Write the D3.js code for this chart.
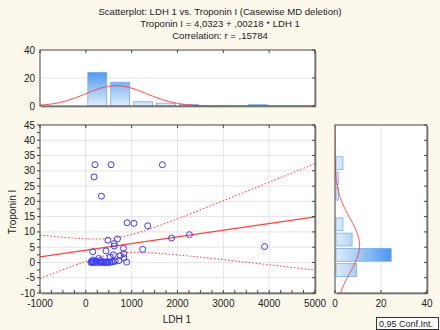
<!DOCTYPE html>
<html lang="en">
  <head>
    <meta charset="utf-8">
    <title>Scatterplot LDH 1 vs Troponin I</title>
    <script type="text/javascript" src="https://cdn.jsdelivr.net/npm/d3@7"></script>
    <style>
    body { margin: 0; background: #fcf8ec; }
    svg { display: block; font-family: "Liberation Sans", Arial, sans-serif; }
    .tick-label { font-size: 10px; fill: #222; }
    .title { font-size: 9.6px; fill: #222; text-anchor: middle; }
    </style>
  </head>
  <body>
    <div id="chart"></div>
    <script type="text/javascript">

      // data
      var ldh1 = [200, 550, 1670, 180, 340, 900, 1050, 1350, 1870, 2260, 3900, 1240,
                  690, 480, 620, 620, 820, 150, 440, 830, 600, 750, 830, 530, 280, 150, 310, 720, 890,
                  110, 125, 140, 165, 190, 215, 250, 300, 330, 360, 385, 410, 440, 465, 490,
                  520, 560, 590, 640];
      var troponinI = [32, 32, 32, 28, 21.7, 13, 12.8, 12, 8, 9.1, 5.2, 4.3,
                  7.7, 7.3, 6.2, 5.4, 4.6, 3.5, 3.8, 2.9, 2.5, 2.2, 1.5, 1.8, 1.3, 0.8, 0.6, 0.6, 0.1,
                  0, 0.3, 0, 0.2, 0, 0.4, 0, 0, 0.2, 0, 0.3, 0, 0, 0.2, 0.1,
                  0, 0.3, 0.2, 0.4];

      // fit printed in the title
      var intercept = 4.0323, slope = 0.00218;
      var titleLines = ["Scatterplot: LDH 1 vs. Troponin I (Casewise MD deletion)",
                        "Troponin I = 4,0323 + ,00218 * LDH 1",
                        "Correlation: r = ,15784"];
      var xTicks = [-1000, 0, 1000, 2000, 3000, 4000, 5000];
      var yTicks = [-10, -5, 0, 5, 10, 15, 20, 25, 30, 35, 40, 45];
      var histTicks = [0, 20, 40];
      var xBinWidth = 500, yBinWidth = 5;
      var tCrit = 2.0129; // t(0.975, 46)

      var W = 440, H = 330;
      var svg = d3.select("#chart").append("svg").attr("width", W).attr("height", H);
      svg.append("rect").attr("width", W).attr("height", H).attr("fill", "#fcf8ec");

      var x = d3.scaleLinear().domain([-1000, 5000]).range([40, 315]);
      var y = d3.scaleLinear().domain([-10, 45]).range([293, 125]);
      var hy = d3.scaleLinear().domain([0, 40]).range([106, 50]);   // top histogram counts
      var hx = d3.scaleLinear().domain([0, 40]).range([335, 427]);  // right histogram counts

      var n = ldh1.length;
      var pts = ldh1.map(function(d, i) { return {x: d, y: troponinI[i]}; });

      // bins are (lo, hi]
      function binCounts(vals, start, stop, w) {
        var counts = d3.range(Math.round((stop - start) / w)).map(function() { return 0; });
        vals.forEach(function(v) {
          var k = Math.ceil((v - start) / w) - 1;
          if (k >= 0 && k < counts.length) counts[k]++;
        });
        return counts.map(function(c, i) { return {lo: start + i * w, hi: start + (i + 1) * w, n: c}; });
      }
      var xBins = binCounts(ldh1, -1000, 5000, xBinWidth).filter(function(b) { return b.n > 0; });
      var yBins = binCounts(troponinI, -10, 45, yBinWidth).filter(function(b) { return b.n > 0; });

      var mx = d3.mean(ldh1), sx = d3.deviation(ldh1);
      var my = d3.mean(troponinI), sy = d3.deviation(troponinI);
      var sxx = d3.sum(ldh1, function(d) { return (d - mx) * (d - mx); });
      var sres = Math.sqrt(d3.sum(pts, function(p) {
        var r = p.y - (intercept + slope * p.x); return r * r; }) / (n - 2));

      function normal(v, m, s, count, w) {
        return count * w / (s * Math.sqrt(2 * Math.PI)) * Math.exp(-0.5 * ((v - m) / s) * ((v - m) / s));
      }

      // gradients
      var defs = svg.append("defs");
      var gTop = defs.append("linearGradient").attr("id", "gradTop")
        .attr("gradientUnits", "userSpaceOnUse")
        .attr("x1", 0).attr("x2", 0).attr("y1", hy(0)).attr("y2", hy(d3.max(xBins, function(b) { return b.n; })));
      gTop.append("stop").attr("offset", "0%").attr("stop-color", "#e2eefc");
      gTop.append("stop").attr("offset", "100%").attr("stop-color", "#4f98f0");
      var gRight = defs.append("linearGradient").attr("id", "gradRight")
        .attr("gradientUnits", "userSpaceOnUse")
        .attr("y1", 0).attr("y2", 0).attr("x1", hx(0)).attr("x2", hx(d3.max(yBins, function(b) { return b.n; })));
      gRight.append("stop").attr("offset", "0%").attr("stop-color", "#e2eefc");
      gRight.append("stop").attr("offset", "100%").attr("stop-color", "#4f98f0");
      defs.append("clipPath").attr("id", "clipMain").append("rect")
        .attr("x", 40).attr("y", 125).attr("width", 275).attr("height", 168);
      defs.append("clipPath").attr("id", "clipTop").append("rect")
        .attr("x", 40).attr("y", 50).attr("width", 275).attr("height", 56);
      defs.append("clipPath").attr("id", "clipRight").append("rect")
        .attr("x", 335).attr("y", 125).attr("width", 92).attr("height", 168);

      function frame(x0, y0, w, h) {
        svg.append("rect").attr("x", x0 + 1.5).attr("y", y0 + 1.5).attr("width", w).attr("height", h)
          .attr("fill", "#a8a49a");
        svg.append("rect").attr("x", x0).attr("y", y0).attr("width", w).attr("height", h)
          .attr("fill", "#fff");
      }
      function border(x0, y0, w, h) {
        svg.append("rect").attr("x", x0).attr("y", y0).attr("width", w).attr("height", h)
          .attr("fill", "none").attr("stroke", "#444").attr("stroke-width", 1);
      }

      frame(40, 50, 275, 56);
      frame(40, 125, 275, 168);
      frame(335, 125, 92, 168);

      var grid = "#e4e4e4";

      // grid lines
      svg.append("g").selectAll("line").data(xTicks.slice(1, -1)).enter().append("line")
        .attr("x1", function(d) { return x(d); }).attr("x2", function(d) { return x(d); })
        .attr("y1", 125).attr("y2", 293).attr("stroke", grid);
      svg.append("g").selectAll("line").data(yTicks.slice(1, -1)).enter().append("line")
        .attr("y1", function(d) { return y(d); }).attr("y2", function(d) { return y(d); })
        .attr("x1", 40).attr("x2", 315).attr("stroke", grid);
      svg.append("line").attr("x1", 40).attr("x2", 315).attr("y1", hy(20)).attr("y2", hy(20)).attr("stroke", grid);
      svg.append("line").attr("y1", 125).attr("y2", 293).attr("x1", hx(20)).attr("x2", hx(20)).attr("stroke", grid);

      // top histogram
      var topHist = svg.append("g").attr("clip-path", "url(#clipTop)");
      topHist.selectAll("rect").data(xBins).enter().append("rect")
        .attr("x", function(d) { return x(d.lo) + 2; })
        .attr("width", function(d) { return x(d.hi) - x(d.lo) - 4; })
        .attr("y", function(d) { return hy(d.n); })
        .attr("height", function(d) { return hy(0) - hy(d.n); })
        .attr("fill", "url(#gradTop)").attr("stroke", "#78acee").attr("stroke-width", 0.8);
      topHist.append("path")
        .datum(d3.range(-1000, 5001, 25))
        .attr("d", d3.line().x(function(v) { return x(v); })
          .y(function(v) { return hy(normal(v, mx, sx, n, xBinWidth)); }))
        .attr("fill", "none").attr("stroke", "#ff4040").attr("stroke-width", 1);

      // right histogram
      var rightHist = svg.append("g").attr("clip-path", "url(#clipRight)");
      rightHist.selectAll("rect").data(yBins).enter().append("rect")
        .attr("y", function(d) { return y(d.hi) + 1.2; })
        .attr("height", function(d) { return y(d.lo) - y(d.hi) - 2.4; })
        .attr("x", hx(0) + 1)
        .attr("width", function(d) { return hx(d.n) - hx(0); })
        .attr("fill", "url(#gradRight)").attr("stroke", "#78acee").attr("stroke-width", 0.8);
      rightHist.append("path")
        .datum(d3.range(-10, 45.01, 0.25))
        .attr("d", d3.line().y(function(v) { return y(v); })
          .x(function(v) { return hx(normal(v, my, sy, n, yBinWidth)); }))
        .attr("fill", "none").attr("stroke", "#ff4040").attr("stroke-width", 1);

      // main plot: regression line, confidence band, points
      var mainPlot = svg.append("g").attr("clip-path", "url(#clipMain)");
      var xs = d3.range(-1000, 5001, 50);
      function band(sign) {
        return d3.line().x(function(v) { return x(v); }).y(function(v) {
          var fit = intercept + slope * v;
          var half = tCrit * sres * Math.sqrt(1 / n + (v - mx) * (v - mx) / sxx);
          return y(fit + sign * half);
        });
      }
      mainPlot.append("path").datum(xs).attr("d", band(1))
        .attr("fill", "none").attr("stroke", "#ff4a4a").attr("stroke-width", 1.1).attr("stroke-dasharray", "1.5,2");
      mainPlot.append("path").datum(xs).attr("d", band(-1))
        .attr("fill", "none").attr("stroke", "#ff4a4a").attr("stroke-width", 1.1).attr("stroke-dasharray", "1.5,2");
      mainPlot.append("line")
        .attr("x1", x(-1000)).attr("y1", y(intercept + slope * -1000))
        .attr("x2", x(5000)).attr("y2", y(intercept + slope * 5000))
        .attr("stroke", "#ff4040").attr("stroke-width", 1.3);
      mainPlot.selectAll("circle").data(pts).enter().append("circle")
        .attr("cx", function(d) { return x(d.x); })
        .attr("cy", function(d) { return y(d.y); })
        .attr("r", 3)
        .attr("fill", "none").attr("stroke", "#3a3aff").attr("stroke-width", 1);

      border(40, 50, 275, 56);
      border(40, 125, 275, 168);
      border(335, 125, 92, 168);

      // tick marks
      var tk = svg.append("g").attr("stroke", "#444").attr("stroke-width", 1);
      d3.range(-10, 45.01, 2.5).forEach(function(v) {
        tk.append("line").attr("x1", 37).attr("x2", 40).attr("y1", y(v)).attr("y2", y(v));
      });
      yTicks.forEach(function(v) {
        tk.append("line").attr("x1", 312).attr("x2", 315).attr("y1", y(v)).attr("y2", y(v));
        tk.append("line").attr("x1", 424).attr("x2", 427).attr("y1", y(v)).attr("y2", y(v));
      });
      d3.range(-1000, 5001, 250).forEach(function(v) {
        tk.append("line").attr("x1", x(v)).attr("x2", x(v)).attr("y1", 290).attr("y2", 293);
      });
      xTicks.forEach(function(v) {
        tk.append("line").attr("x1", x(v)).attr("x2", x(v)).attr("y1", 125).attr("y2", 128);
        tk.append("line").attr("x1", x(v)).attr("x2", x(v)).attr("y1", 50).attr("y2", 53);
      });
      histTicks.forEach(function(v) {
        tk.append("line").attr("x1", hx(v)).attr("x2", hx(v)).attr("y1", 290).attr("y2", 293);
        tk.append("line").attr("x1", 312).attr("x2", 315).attr("y1", hy(v)).attr("y2", hy(v));
      });

      // tick labels
      svg.append("g").selectAll("text").data(xTicks).enter().append("text")
        .attr("class", "tick-label").attr("text-anchor", "middle")
        .attr("x", function(d) { return x(d); }).attr("y", 307)
        .text(function(d) { return d; });
      svg.append("g").selectAll("text").data(yTicks).enter().append("text")
        .attr("class", "tick-label").attr("text-anchor", "end")
        .attr("x", 35).attr("y", function(d) { return y(d) + 3.5; })
        .text(function(d) { return d; });
      svg.append("g").selectAll("text").data(histTicks).enter().append("text")
        .attr("class", "tick-label").attr("text-anchor", "end")
        .attr("x", 35).attr("y", function(d) { return hy(d) + 3.5; })
        .text(function(d) { return d; });
      svg.append("g").selectAll("text").data(histTicks).enter().append("text")
        .attr("class", "tick-label").attr("text-anchor", "middle")
        .attr("x", function(d) { return hx(d); }).attr("y", 307)
        .text(function(d) { return d; });

      // axis titles
      svg.append("text").attr("class", "tick-label").attr("text-anchor", "middle")
        .attr("x", 177).attr("y", 323).text("LDH 1");
      svg.append("text").attr("class", "tick-label").attr("text-anchor", "middle")
        .attr("transform", "translate(16,212) rotate(-90)").text("Troponin I");

      // titles
      svg.append("g").selectAll("text").data(titleLines).enter().append("text")
        .attr("class", "title").attr("x", 220).attr("y", function(d, i) { return 14.5 + i * 12; })
        .text(function(d) { return d; });

      // legend
      svg.append("rect").attr("x", 376.5).attr("y", 317.5).attr("width", 62).attr("height", 12)
        .attr("fill", "#fff").attr("stroke", "#333");
      svg.append("text").attr("x", 379).attr("y", 327).attr("font-size", "9px").attr("fill", "#222")
        .text("0,95 Conf.Int.");

    </script>
  </body>
</html>
